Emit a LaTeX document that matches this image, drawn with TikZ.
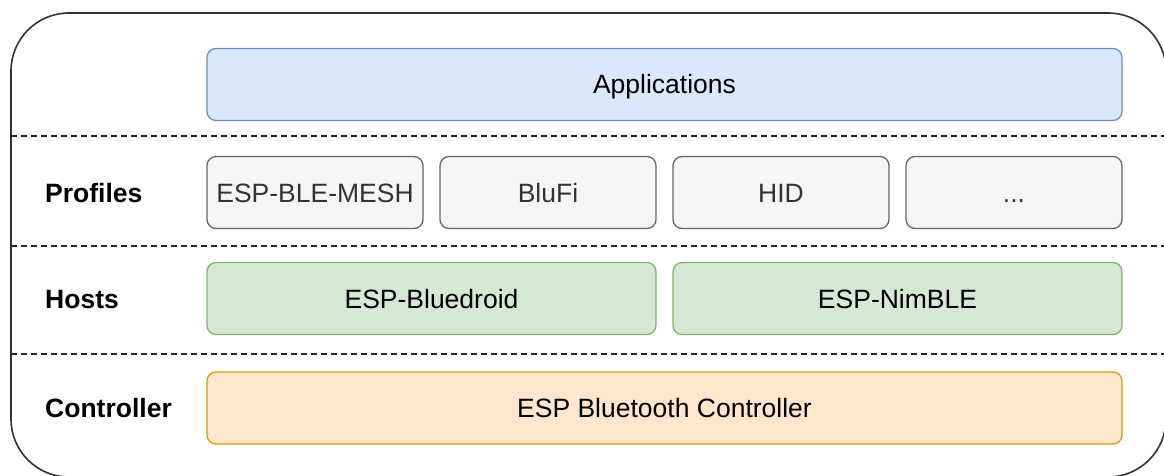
\documentclass[tikz,border=0pt]{standalone}
\usepackage{fontspec}
\setmainfont{Liberation Sans}
\usetikzlibrary{positioning}

\definecolor{appfill}{HTML}{DAE8FC}
\definecolor{appdraw}{HTML}{6C8EBF}
\definecolor{proffill}{HTML}{F5F5F5}
\definecolor{profdraw}{HTML}{666666}
\definecolor{proftext}{HTML}{333333}
\definecolor{hostfill}{HTML}{D5E8D4}
\definecolor{hostdraw}{HTML}{82B366}
\definecolor{ctrlfill}{HTML}{FFE6CC}
\definecolor{ctrldraw}{HTML}{D79B00}
\definecolor{framedraw}{HTML}{333333}

\begin{document}
\begin{tikzpicture}[
    x=1pt, y=-1pt,
    layer/.style={rectangle, rounded corners=9pt, line width=1.3pt,
                  minimum height=72pt, inner sep=0pt,
                  text height=19pt, text depth=0pt,
                  font=\fontsize{26.5}{30}\selectfont},
    app/.style={layer, fill=appfill, draw=appdraw, minimum width=915pt},
    profile/.style={layer, fill=proffill, draw=profdraw, text=proftext,
                    minimum width=216pt},
    host/.style={layer, fill=hostfill, draw=hostdraw, minimum width=449pt},
    ctrl/.style={layer, fill=ctrlfill, draw=ctrldraw, minimum width=915pt},
    rowlabel/.style={anchor=west, inner sep=0pt,
                     text height=19pt, text depth=0pt,
                     font=\fontsize{26.5}{30}\selectfont\bfseries},
    divider/.style={line width=1.3pt, draw=black!85,
                    dash pattern=on 6pt off 4pt}
  ]
    \useasboundingbox (0,0) rectangle (1164,476);
    \clip (0,0) rectangle (1164,476);

    % Outer frame
    \draw[line width=1.6pt, draw=framedraw, rounded corners=58pt]
      (11,13) rectangle (1166,477);

    % Dividers
    \coordinate (d1l) at (11,136);   \coordinate (d1r) at (1166,136);
    \coordinate (d2l) at (11,246);   \coordinate (d2r) at (1166,246);
    \coordinate (d3l) at (11,354);   \coordinate (d3r) at (1166,354);
    \draw[divider] (d1l) -- (d1r);
    \draw[divider] (d2l) -- (d2r);
    \draw[divider] (d3l) -- (d3r);

    % Applications
    \node[app] (apps) at (664.5,84.5) {Applications};

    % Profiles
    \node[rowlabel] (lprof) at (45,193) {Profiles};
    \node[profile] (mesh) at (315,192.5) {ESP-BLE-MESH};
    \node[profile] (blufi) at (548,192.5) {BluFi};
    \node[profile] (hid) at (781,192.5) {HID};
    \node[profile] (more) at (1014,192.5) {...};

    % Hosts
    \node[rowlabel] (lhost) at (45,298.5) {Hosts};
    \node[host] (droid) at (431.5,298.5) {ESP-Bluedroid};
    \node[host] (nimble) at (897.5,298.5) {ESP-NimBLE};

    % Controller
    \node[rowlabel] (lctrl) at (45,408) {Controller};
    \node[ctrl] (btc) at (664.5,408) {ESP Bluetooth Controller};

  \end{tikzpicture}
\end{document}
